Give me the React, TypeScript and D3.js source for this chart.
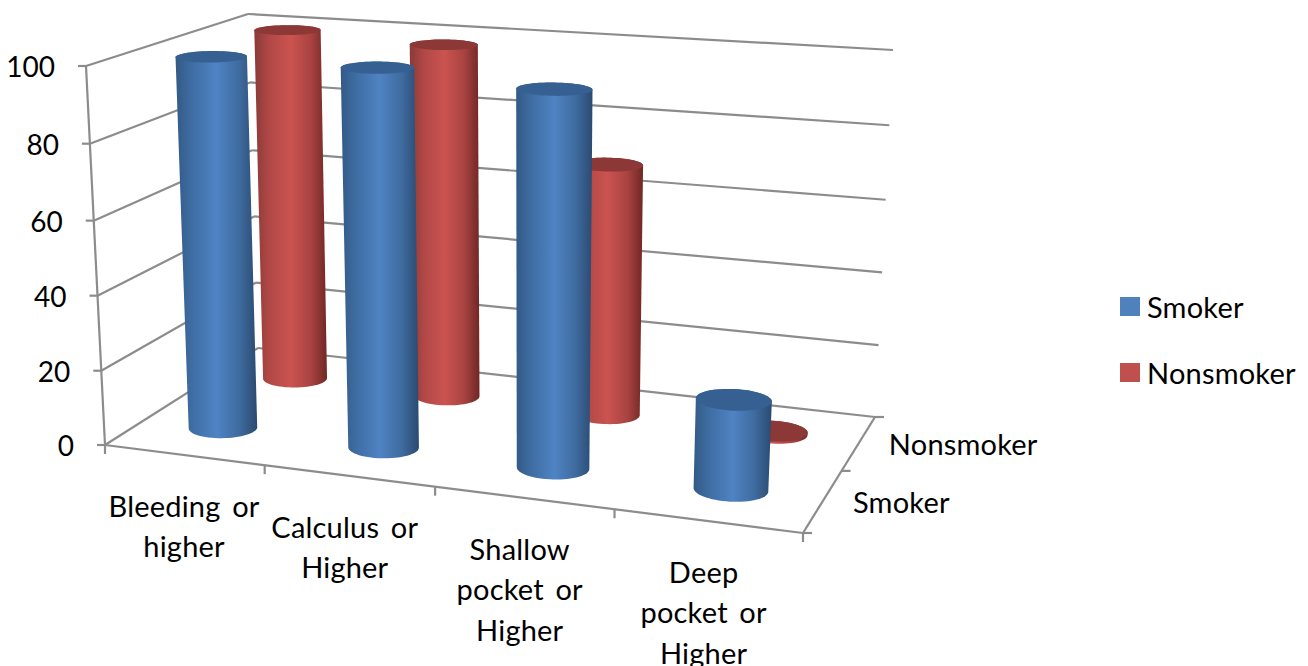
import { useEffect, useRef } from 'react';
import * as d3 from 'd3';

const categories = ['Bleeding or higher', 'Calculus or Higher', 'Shallow pocket or Higher', 'Deep pocket or Higher'];
const categoryLines = [
  ['Bleeding or', 'higher'],
  ['Calculus or', 'Higher'],
  ['Shallow', 'pocket or', 'Higher'],
  ['Deep', 'pocket or', 'Higher'],
];
const seriesNames = ['Smoker', 'Nonsmoker'];
const smoker = [100, 100, 97.5, 23];
const nonsmoker = [100, 98.5, 69, 0.6];
const valueTicks = [0, 20, 40, 60, 80, 100];

type Pt = [number, number];
type Quad = [Pt, Pt, Pt, Pt];

// corners of the 3D box on screen: front-left, front-right, back-right, back-left
const floorQuad: Quad = [[105, 445], [803, 533], [875, 417], [258, 348]];
const ceilQuad: Quad = [[86, 66], [824, 117], [893, 50], [248, 14]];

// Unit square to quad homography
function homography(q: Quad) {
  const [[x0, y0], [x1, y1], [x2, y2], [x3, y3]] = q;
  const dx1 = x1 - x2, dx2 = x3 - x2, sx = x0 - x1 + x2 - x3;
  const dy1 = y1 - y2, dy2 = y3 - y2, sy = y0 - y1 + y2 - y3;
  const det = dx1 * dy2 - dx2 * dy1;
  const g = (sx * dy2 - dx2 * sy) / det;
  const h = (dx1 * sy - sx * dy1) / det;
  const a = x1 - x0 + g * x1, b = x3 - x0 + h * x3;
  const d = y1 - y0 + g * y1, e = y3 - y0 + h * y3;
  return (u: number, v: number): Pt => {
    const w = g * u + h * v + 1;
    return [(a * u + b * v + x0) / w, (d * u + e * v + y0) / w];
  };
}

const floorAt = homography(floorQuad);
const ceilAt = homography(ceilQuad);

// slight foreshortening of the value axis and of the category axis
const hScale = d3.scaleLinear().domain(valueTicks).range([0, 0.196, 0.394, 0.592, 0.795, 1]);
const floorWarp = d3.scalePow().exponent(1.018).domain([0, 1]).range([0, 1]);
const ceilWarp = d3.scalePow().exponent(0.99).domain([0, 1]).range([0, 1]);

// u along categories, v along depth, val along the value axis
function project(u: number, v: number, val: number): Pt {
  const t = hScale(val);
  const a = floorAt(floorWarp(u), v);
  const b = ceilAt(ceilWarp(u), v);
  return [a[0] + (b[0] - a[0]) * t, a[1] + (b[1] - a[1]) * t];
}

export default function App() {
  const ref = useRef<SVGSVGElement>(null);

  useEffect(() => {
    if (!ref.current) return;
    const svg = d3.select(ref.current);
    svg.selectAll('*').remove();

    const font = 'Lato, "Open Sans", sans-serif';
    const axisColor = '#8c8c8c';
    const uScale = d3.scaleBand<string>().domain(categories).range([0, 1]);
    const vScale = d3.scaleBand<string>().domain(seriesNames).range([0, 1]);
    const line = d3.line<Pt>();

    const defs = svg.append('defs');
    const addGradient = (id: string, stops: [number, string][]) => {
      const g = defs.append('linearGradient').attr('id', id).attr('x1', 0).attr('x2', 1).attr('y1', 0).attr('y2', 0);
      stops.forEach(([o, c]) => g.append('stop').attr('offset', o).attr('stop-color', c));
    };
    addGradient('blueBody', [[0, '#335a86'], [0.2, '#3f6da3'], [0.5, '#4f83c3'], [0.78, '#3f6b9f'], [1, '#2a4a70']]);
    addGradient('redBody', [[0, '#8a3a38'], [0.2, '#b04846'], [0.5, '#cb5350'], [0.78, '#a84341'], [1, '#702725']]);

    const drawLine = (a: Pt, b: Pt) =>
      svg.append('path').attr('d', line([a, b])!).attr('fill', 'none').attr('stroke', axisColor).attr('stroke-width', 2.2);

    // walls
    valueTicks.forEach(t => {
      const front = project(0, 0, t);
      const back = project(0, 1, t);
      const right = project(1, 1, t);
      drawLine(front, back);
      drawLine(back, right);
      drawLine([front[0] - 8, front[1]], front);
    });
    drawLine(project(0, 0, 0), project(0, 0, 100));

    // floor edges and ticks
    drawLine(project(0, 0, 0), project(1, 0, 0));
    drawLine(project(1, 0, 0), project(1, 1, 0));
    [0, ...categories.map(c => uScale(c)! + uScale.bandwidth())].forEach(u => {
      const p = project(u, 0, 0);
      drawLine(p, [p[0], p[1] + 9]);
    });
    [0, 0.5, 1].forEach(v => {
      const p = project(1, v, 0);
      drawLine(p, [p[0] + 9, p[1]]);
    });

    // cylinders, back row first
    const ru = 0.05, rv = 0.093;
    const thetas = d3.range(0, 64).map(i => (i / 64) * Math.PI * 2);
    const ring = (u: number, v: number, val: number) =>
      thetas.map(t => project(u + ru * Math.cos(t), v + rv * Math.sin(t), val));

    const rows = [
      { name: 'Nonsmoker', values: nonsmoker, body: 'url(#redBody)', cap: '#8c3836' },
      { name: 'Smoker', values: smoker, body: 'url(#blueBody)', cap: '#376092' },
    ];
    rows.forEach(row => {
      const v = vScale(row.name)! + vScale.bandwidth() / 2;
      row.values.forEach((val, i) => {
        const u = uScale(categories[i])! + uScale.bandwidth() / 2;
        const bottom = ring(u, v, 0);
        const top = ring(u, v, val);
        const hull = d3.polygonHull([...bottom, ...top])!;
        svg.append('path').attr('d', line(hull)! + 'Z').attr('fill', row.body);
        svg.append('path').attr('d', line(top)! + 'Z').attr('fill', row.cap);
      });
    });

    const text = (s: string, x: number, y: number, anchor = 'start') =>
      svg.append('text').attr('x', x).attr('y', y).attr('text-anchor', anchor)
        .attr('font-family', font).attr('font-size', 29).attr('word-spacing', 4)
        .attr('letter-spacing', 0.2).attr('fill', '#000').text(s);

    valueTicks.forEach(t => {
      const p = project(0, 0, t);
      text(String(t), p[0] - 31, p[1] + 11, 'end').attr('font-size', 28).attr('letter-spacing', 0);
    });

    categoryLines.forEach((lines, i) => {
      const p = project(uScale(categories[i])! + uScale.bandwidth() / 2, 0, 0);
      const nudge = i === 0 ? 1 : -4;
      lines.forEach((s, k) => text(s, p[0] + nudge, p[1] + 62 + k * 40.5, 'middle'));
    });

    seriesNames.forEach(name => {
      const p = project(1, vScale(name)! + vScale.bandwidth() / 2, 0);
      text(name, p[0] + 30, p[1] + 12);
    });

    // legend
    const legendY = d3.scalePoint<string>().domain(seriesNames).range([318, 384]);
    seriesNames.forEach((name, i) => {
      const y = legendY(name)!;
      svg.append('rect').attr('x', 1120).attr('y', y - 21).attr('width', 20).attr('height', 19)
        .attr('fill', i === 0 ? '#4f81bd' : '#c0504d');
      text(name, 1147, y);
    });
  }, []);

  return (
    <svg
      ref={ref}
      width={1308}
      height={666}
      viewBox="0 0 1308 666"
      style={{ position: 'absolute', left: 0, top: 0, background: '#fff' }}
    />
  );
}
